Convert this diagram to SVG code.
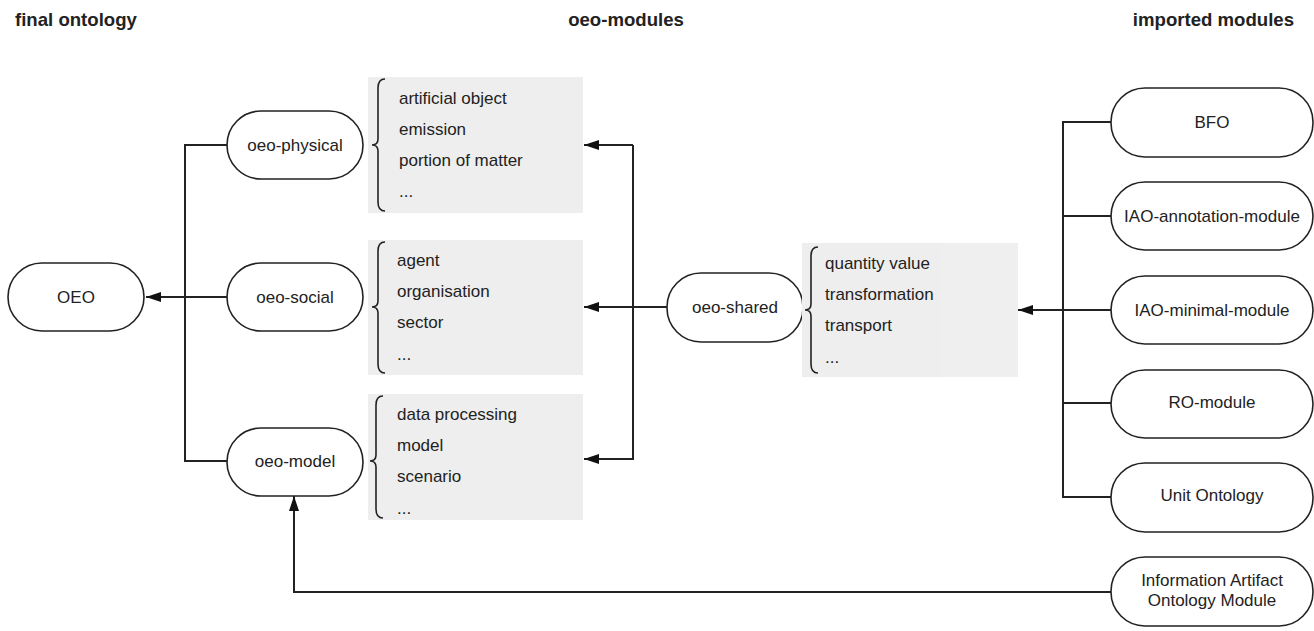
<svg xmlns="http://www.w3.org/2000/svg" width="1314" height="631" viewBox="0 0 1314 631">
<style>
.hdr{font-family:"Liberation Sans",Arial,sans-serif;font-weight:bold;font-size:18.6px;fill:#222}
.lbl{font-family:"Liberation Sans",Arial,sans-serif;font-size:17px;fill:#222}
.pill{fill:#fff;stroke:#222;stroke-width:1.6}
.box{fill:#eeeeee}
.brace{fill:none;stroke:#222;stroke-width:1.6}
.conn{fill:none;stroke:#222;stroke-width:2}
</style>
<defs>
<marker id="arr" markerUnits="userSpaceOnUse" markerWidth="16" markerHeight="12" refX="15" refY="5" orient="auto">
<path d="M0,0 L15,5 L0,10 Z" fill="#111" transform="rotate(0)"/>
</marker>
<marker id="arrh" markerUnits="userSpaceOnUse" markerWidth="16" markerHeight="12" refX="15" refY="5" orient="auto">
<path d="M0,0 L15,5 L0,10 Z" fill="#111"/>
</marker>
</defs>
<rect width="1314" height="631" fill="#fff"/>

<g id="headers">
<text class="hdr" x="15" y="26">final ontology</text>
<text class="hdr" x="626" y="26" text-anchor="middle">oeo-modules</text>
<text class="hdr" x="1294" y="26" text-anchor="end">imported modules</text>
</g>

<g id="connectors">
<!-- physical/model into left trunk -->
<path class="conn" d="M227,145 H185 V461 H227"/>
<!-- social to OEO -->
<path class="conn" d="M227,297 H146" marker-end="url(#arr)"/>
<!-- shared to oeo modules -->
<path class="conn" d="M667,307 H584" marker-end="url(#arr)"/>
<path class="conn" d="M633,145 H584" marker-end="url(#arr)"/>
<path class="conn" d="M633,145 V459 H584" marker-end="url(#arr)"/>
<!-- imported trunk -->
<path class="conn" d="M1111,122 H1063 V497 H1111"/>
<path class="conn" d="M1063,216 H1111"/>
<path class="conn" d="M1063,403 H1111"/>
<path class="conn" d="M1111,310 H1018" marker-end="url(#arr)"/>
<!-- IAO module to oeo-model -->
<path class="conn" d="M1111,592 H294 V496" marker-end="url(#arr)"/>
</g>

<g id="OEO">
<rect class="pill" x="8" y="263" width="136" height="68" rx="34"/>
<text class="lbl" x="76" y="303" text-anchor="middle">OEO</text>
</g>

<g id="oeo-physical">
<rect class="pill" x="227" y="111" width="136" height="68" rx="34"/>
<text class="lbl" x="295" y="151" text-anchor="middle">oeo-physical</text>
</g>
<g id="oeo-physical-list">
<rect class="box" x="368" y="77" width="215" height="136"/>
<path class="brace" d="M385,79 Q378,79 378,88 L378,139 Q378,145 372,145 Q378,145 378,151 L378,202 Q378,211 385,211"/>
<text class="lbl" x="399" y="104">artificial object</text>
<text class="lbl" x="399" y="135">emission</text>
<text class="lbl" x="399" y="166">portion of matter</text>
<text class="lbl" x="399" y="197">...</text>
</g>

<g id="oeo-social">
<rect class="pill" x="227" y="263" width="136" height="68" rx="34"/>
<text class="lbl" x="295" y="303" text-anchor="middle">oeo-social</text>
</g>
<g id="oeo-social-list">
<rect class="box" x="368" y="240" width="215" height="135"/>
<path class="brace" d="M385,242 Q378,242 378,251 L378,301 Q378,307 372,307 Q378,307 378,313 L378,364 Q378,373 385,373"/>
<text class="lbl" x="397" y="266">agent</text>
<text class="lbl" x="397" y="297">organisation</text>
<text class="lbl" x="397" y="328">sector</text>
<text class="lbl" x="397" y="360">...</text>
</g>

<g id="oeo-model">
<rect class="pill" x="227" y="428" width="136" height="68" rx="34"/>
<text class="lbl" x="295" y="467" text-anchor="middle">oeo-model</text>
</g>
<g id="oeo-model-list">
<rect class="box" x="368" y="394" width="215" height="126"/>
<path class="brace" d="M383,396 Q376,396 376,405 L376,455 Q376,461 370,461 Q376,461 376,467 L376,509 Q376,518 383,518"/>
<text class="lbl" x="397" y="420">data processing</text>
<text class="lbl" x="397" y="451">model</text>
<text class="lbl" x="397" y="482">scenario</text>
<text class="lbl" x="397" y="514">...</text>
</g>

<g id="oeo-shared">
<rect class="pill" x="667" y="273" width="136" height="69" rx="34"/>
<text class="lbl" x="735" y="313" text-anchor="middle">oeo-shared</text>
</g>
<g id="oeo-shared-list">
<rect class="box" x="802" y="243" width="140" height="134"/>
<rect x="942" y="243" width="76" height="134" fill="#efefef"/>
<path class="brace" d="M818,247 Q811,247 811,256 L811,304 Q811,310 805,310 Q811,310 811,316 L811,364 Q811,373 818,373"/>
<text class="lbl" x="825" y="269">quantity value</text>
<text class="lbl" x="825" y="300">transformation</text>
<text class="lbl" x="825" y="331">transport</text>
<text class="lbl" x="825" y="363">...</text>
</g>

<g id="BFO">
<rect class="pill" x="1111" y="88" width="202" height="69" rx="34"/>
<text class="lbl" x="1212" y="128" text-anchor="middle">BFO</text>
</g>
<g id="IAO-annotation-module">
<rect class="pill" x="1111" y="182" width="202" height="68" rx="34"/>
<text class="lbl" x="1212" y="222" text-anchor="middle">IAO-annotation-module</text>
</g>
<g id="IAO-minimal-module">
<rect class="pill" x="1111" y="276" width="202" height="68" rx="34"/>
<text class="lbl" x="1212" y="316" text-anchor="middle">IAO-minimal-module</text>
</g>
<g id="RO-module">
<rect class="pill" x="1111" y="370" width="202" height="68" rx="34"/>
<text class="lbl" x="1212" y="408" text-anchor="middle">RO-module</text>
</g>
<g id="Unit-Ontology">
<rect class="pill" x="1111" y="463" width="202" height="69" rx="34"/>
<text class="lbl" x="1212" y="501" text-anchor="middle">Unit Ontology</text>
</g>
<g id="Information-Artifact-Ontology-Module">
<rect class="pill" x="1111" y="557" width="202" height="69" rx="34"/>
<text class="lbl" x="1212" y="586" text-anchor="middle">Information Artifact</text>
<text class="lbl" x="1212" y="606" text-anchor="middle">Ontology Module</text>
</g>
</svg>
